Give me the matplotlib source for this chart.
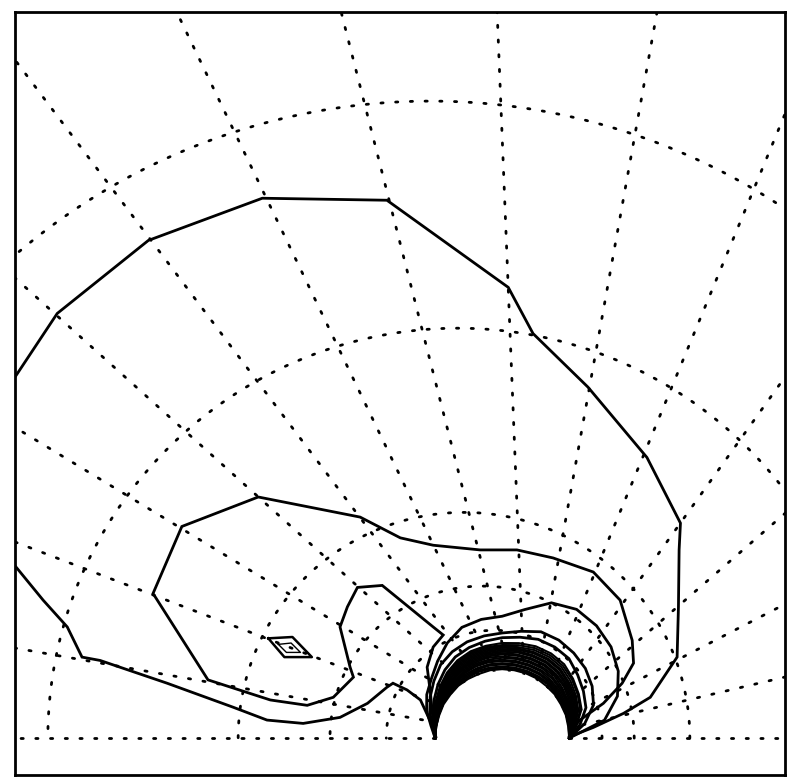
import numpy as np
import matplotlib
matplotlib.use("Agg")
import matplotlib.pyplot as plt
from matplotlib.patches import Circle

# lengths in cylinder radii, origin at the cylinder centre
# measuring mesh: radial lines from a common point, eccentric arcs
ray_origin = (0.36, 0.0)
ray_angles = [0, 13.3, 27.4, 41, 54.4, 67.5, 79.8, 92.3, 104.3, 115.7,
              127, 138, 148.7, 159, 170, 180]
arc_centers = [-1.07, -0.66, -0.57, -0.30, -0.12]
arc_radii = [9.51, 6.12, 3.37, 2.27, 1.61]

# outer contour lines (x, y)
c1_x = [-7.27, -6.64, -5.28, -3.58, -1.72, 0.09, 0.46, 1.28, 2.16, 2.66,
        2.64, 2.63, 2.61, 2.21, 1.81, 1.36, 1.00]
c1_y = [5.39, 6.34, 7.43, 8.06, 8.03, 6.73, 6.04, 5.24, 4.19, 3.21,
        2.81, 1.96, 1.21, 0.61, 0.37, 0.16, 0.02]

c2_x = [-7.30, -6.85, -6.49, -6.27, -6.00, -5.00, -4.01, -3.51, -2.97, -2.42,
        -2.01, -1.72, -1.63, -1.42, -1.22, -1.03, -0.99]
c2_y = [2.61, 2.06, 1.66, 1.21, 1.16, 0.82, 0.46, 0.27, 0.22, 0.31,
        0.52, 0.76, 0.82, 0.72, 0.57, 0.16, 0.02]

c3_x = [-1.00, -1.03, -1.07, -1.12, -1.03, -0.88, -1.03, -1.52, -1.79, -2.16,
        -2.31, -2.42, -2.27, -2.22, -2.52, -2.91, -3.46, -4.39, -5.21, -4.78,
        -3.64, -2.12, -1.52, -1.03, -0.33, 0.22, 0.76, 1.36, 1.76, 1.94,
        1.96, 1.79, 1.51, 1.16, 1.01]
c3_y = [0.10, 0.24, 0.67, 1.06, 1.36, 1.54, 1.66, 2.06, 2.28, 2.25,
        1.96, 1.66, 1.06, 0.91, 0.61, 0.49, 0.57, 0.87, 2.16, 3.16,
        3.60, 3.30, 2.99, 2.88, 2.81, 2.81, 2.69, 2.48, 2.06, 1.46,
        1.12, 0.82, 0.52, 0.27, 0.09]

# small closed contours left of the cylinder
d1_x = [-3.49, -3.13, -2.84, -3.25, -3.49]
d1_y = [1.49, 1.51, 1.21, 1.21, 1.49]
d2_x = [-3.34, -3.15, -3.01, -3.22, -3.34]
d2_y = [1.40, 1.42, 1.28, 1.28, 1.40]

# contours close to the wall, radius at each polar angle
wall_theta = [180, 170, 160, 150, 140, 130, 120, 110, 100, 90,
              80, 70, 60, 50, 40, 30, 20, 10, 0]
c4_r = [1.00, 1.08, 1.20, 1.30, 1.38, 1.50, 1.64, 1.76, 1.80, 1.82,
        1.95, 2.15, 2.22, 2.19, 2.12, 2.00, 1.83, 1.55, 1.00]
c5_r = [1.00, 1.06, 1.15, 1.24, 1.33, 1.43, 1.49, 1.53, 1.55, 1.57,
        1.62, 1.69, 1.69, 1.66, 1.62, 1.55, 1.45, 1.25, 1.00]
c6_r = [1.00, 1.04, 1.10, 1.17, 1.25, 1.33, 1.40, 1.44, 1.47, 1.50,
        1.53, 1.57, 1.57, 1.55, 1.47, 1.40, 1.33, 1.18, 1.00]
band_r = [
    [1.00, 1.03, 1.08, 1.14, 1.21, 1.28, 1.34, 1.38, 1.40, 1.42,
     1.44, 1.46, 1.46, 1.44, 1.38, 1.32, 1.26, 1.13, 1.00],
    [1.00, 1.03, 1.08, 1.13, 1.19, 1.26, 1.32, 1.36, 1.38, 1.39,
     1.41, 1.43, 1.43, 1.41, 1.36, 1.30, 1.24, 1.12, 1.00],
    [1.00, 1.03, 1.07, 1.12, 1.18, 1.24, 1.30, 1.34, 1.36, 1.37,
     1.38, 1.40, 1.40, 1.38, 1.33, 1.27, 1.21, 1.10, 1.00],
    [1.00, 1.02, 1.06, 1.11, 1.16, 1.22, 1.28, 1.32, 1.34, 1.35,
     1.36, 1.37, 1.37, 1.35, 1.30, 1.25, 1.19, 1.09, 1.00],
    [1.00, 1.02, 1.06, 1.10, 1.15, 1.21, 1.26, 1.30, 1.32, 1.33,
     1.34, 1.35, 1.35, 1.33, 1.28, 1.23, 1.17, 1.08, 1.00],
    [1.00, 1.02, 1.05, 1.09, 1.14, 1.19, 1.24, 1.28, 1.30, 1.31,
     1.32, 1.32, 1.32, 1.30, 1.26, 1.21, 1.15, 1.07, 1.00],
    [1.00, 1.02, 1.05, 1.09, 1.13, 1.18, 1.22, 1.26, 1.28, 1.29,
     1.30, 1.30, 1.30, 1.28, 1.24, 1.19, 1.13, 1.06, 1.00],
    [1.00, 1.02, 1.05, 1.08, 1.12, 1.16, 1.20, 1.24, 1.26, 1.27,
     1.27, 1.27, 1.27, 1.25, 1.22, 1.17, 1.11, 1.05, 1.00],
    [1.00, 1.02, 1.04, 1.07, 1.11, 1.15, 1.19, 1.22, 1.24, 1.25,
     1.25, 1.25, 1.25, 1.23, 1.20, 1.15, 1.10, 1.05, 1.00],
    [1.00, 1.01, 1.04, 1.07, 1.10, 1.14, 1.17, 1.20, 1.22, 1.22,
     1.22, 1.22, 1.22, 1.21, 1.17, 1.13, 1.09, 1.04, 1.00],
    [1.00, 1.01, 1.03, 1.06, 1.09, 1.12, 1.15, 1.18, 1.19, 1.20,
     1.20, 1.20, 1.20, 1.18, 1.15, 1.11, 1.07, 1.03, 1.00],
    [1.00, 1.01, 1.03, 1.05, 1.08, 1.11, 1.13, 1.16, 1.17, 1.17,
     1.17, 1.17, 1.17, 1.16, 1.13, 1.10, 1.06, 1.03, 1.00],
    [1.00, 1.01, 1.03, 1.05, 1.07, 1.09, 1.12, 1.14, 1.15, 1.15,
     1.15, 1.15, 1.15, 1.13, 1.11, 1.08, 1.05, 1.02, 1.00],
    [1.00, 1.01, 1.02, 1.04, 1.06, 1.08, 1.10, 1.11, 1.12, 1.12,
     1.12, 1.12, 1.12, 1.11, 1.09, 1.06, 1.04, 1.02, 1.00],
    [1.00, 1.01, 1.02, 1.03, 1.05, 1.06, 1.08, 1.09, 1.10, 1.10,
     1.10, 1.10, 1.10, 1.09, 1.07, 1.05, 1.03, 1.01, 1.00],
    [1.00, 1.00, 1.01, 1.02, 1.04, 1.05, 1.06, 1.07, 1.07, 1.07,
     1.07, 1.07, 1.07, 1.07, 1.05, 1.04, 1.02, 1.01, 1.00],
    [1.00, 1.00, 1.01, 1.02, 1.03, 1.03, 1.04, 1.05, 1.05, 1.05,
     1.05, 1.05, 1.05, 1.05, 1.04, 1.03, 1.02, 1.01, 1.00],
    [1.00, 1.00, 1.00, 1.01, 1.01, 1.02, 1.02, 1.02, 1.03, 1.03,
     1.03, 1.03, 1.03, 1.02, 1.02, 1.01, 1.01, 1.00, 1.00],
]

fig = plt.figure(figsize=(7.87, 7.77), dpi=100)
ax = fig.add_axes([15 / 787, 2 / 777, 770 / 787, 763 / 777])
ax.set_xlim(-7.27, 4.22)
ax.set_ylim(-0.55, 10.84)
ax.set_xticks([])
ax.set_yticks([])
for s in ax.spines.values():
    s.set_linewidth(2.0)

dot = dict(color="black", linestyle=(0, (0.8, 4.5)), linewidth=2.0,
           dash_capstyle="round", zorder=1)

# radial mesh lines, starting on the cylinder wall
px, py = ray_origin
for a in ray_angles:
    u = np.array([np.cos(np.deg2rad(a)), np.sin(np.deg2rad(a))])
    b = px * u[0] + py * u[1]
    t0 = -b + np.sqrt(b * b - (px * px + py * py - 1.0))
    t = np.linspace(t0, 20, 200)
    ax.plot(px + t * u[0], py + t * u[1], **dot)

# arcs of the mesh
phi = np.linspace(0, np.pi, 400)
for cx, R in zip(arc_centers, arc_radii):
    ax.plot(cx + R * np.cos(phi), R * np.sin(phi), **dot)

# cylinder
ax.add_patch(Circle((0, 0), 1.0, facecolor="white", edgecolor="none", zorder=2))

solid = dict(color="black", linewidth=2.0, solid_joinstyle="miter", zorder=4)
ax.plot(c1_x, c1_y, **solid)
ax.plot(c2_x, c2_y, **solid)
ax.plot(c3_x, c3_y, **solid)
ax.plot(d1_x, d1_y, color="black", linewidth=1.8, zorder=4)
ax.plot(d2_x, d2_y, color="black", linewidth=1.0, zorder=4)

th = np.deg2rad(wall_theta)
for r in [c4_r, c5_r, c6_r]:
    r = np.array(r)
    ax.plot(r * np.cos(th), r * np.sin(th), **solid)
for r in band_r:
    r = np.array(r)
    ax.plot(r * np.cos(th), r * np.sin(th), color="black", linewidth=1.5, zorder=4)

fig.savefig("out.png", dpi=100)
